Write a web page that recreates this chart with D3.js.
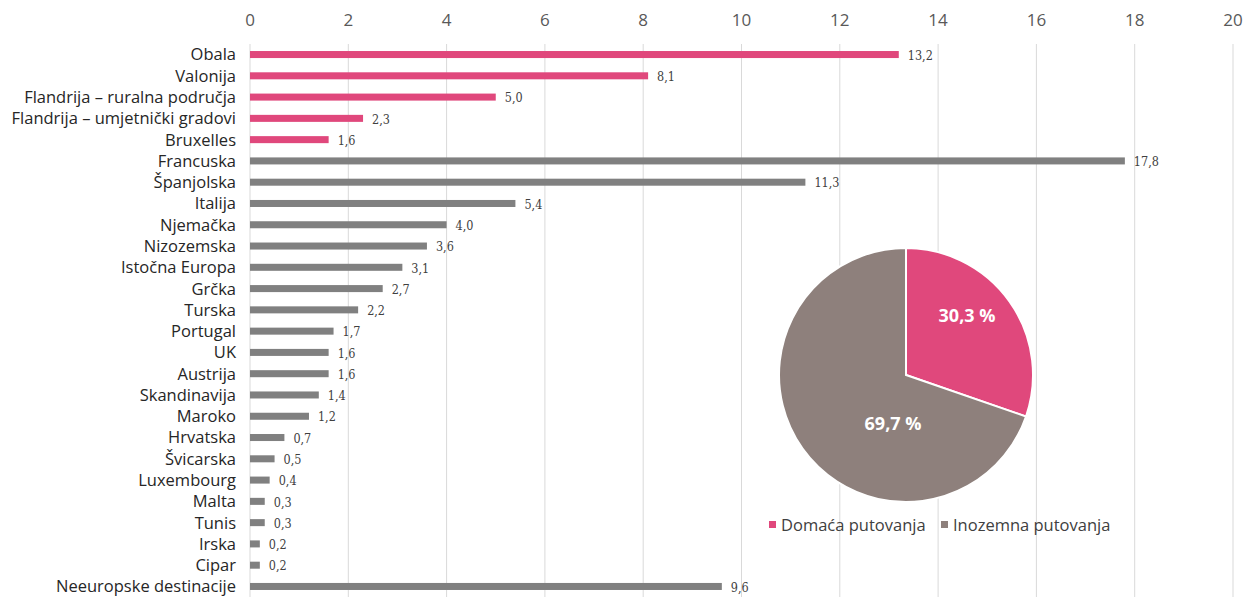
<!DOCTYPE html>
<html>
<head>
<meta charset="utf-8">
<script src="https://cdn.jsdelivr.net/npm/d3@7"></script>
<style>
  body { margin: 0; background: #fff; }
  svg { display: block; }
</style>
</head>
<body>
<div id="chart"></div>
<script>
// data
const categories = ['Obala', 'Valonija', 'Flandrija – ruralna područja', 'Flandrija – umjetnički gradovi',
  'Bruxelles', 'Francuska', 'Španjolska', 'Italija', 'Njemačka', 'Nizozemska', 'Istočna Europa',
  'Grčka', 'Turska', 'Portugal', 'UK', 'Austrija', 'Skandinavija', 'Maroko', 'Hrvatska',
  'Švicarska', 'Luxembourg', 'Malta', 'Tunis', 'Irska', 'Cipar', 'Neeuropske destinacije'];
const values = [13.2, 8.1, 5.0, 2.3, 1.6, 17.8, 11.3, 5.4, 4.0, 3.6, 3.1, 2.7, 2.2, 1.7, 1.6, 1.6,
  1.4, 1.2, 0.7, 0.5, 0.4, 0.3, 0.3, 0.2, 0.2, 9.6];
const domesticCount = 5;
const xTicks = [0, 2, 4, 6, 8, 10, 12, 14, 16, 18, 20];
const pieLabels = ['Domaća putovanja', 'Inozemna putovanja'];
const pieValues = [30.3, 69.7];

const W = 1244, H = 597;
const pink = '#e0487c', gray = '#808080', pieGray = '#8e807c';
const fmt = v => d3.format('.1f')(v).replace('.', ',');

const svg = d3.select('#chart').append('svg')
  .attr('width', W).attr('height', H)
  .style('font-family', 'Open Sans, sans-serif');

const x = d3.scaleLinear().domain([0, 20]).range([250, 1233]);
const y = d3.scaleBand().domain(categories).range([44, 597]).paddingInner(0.67).paddingOuter(0.33);

// gridlines
svg.append('g').selectAll('line').data(xTicks).join('line')
  .attr('x1', d => x(d)).attr('x2', d => x(d))
  .attr('y1', 44).attr('y2', H)
  .attr('stroke', '#d9d9d9').attr('stroke-width', 1);

// top axis tick labels
svg.append('g').selectAll('text').data(xTicks).join('text')
  .attr('x', d => x(d)).attr('y', 26)
  .attr('text-anchor', 'middle')
  .attr('font-size', 17).attr('fill', '#595959')
  .text(d => d);

// bars
svg.append('g').selectAll('rect').data(values).join('rect')
  .attr('x', x(0))
  .attr('y', (d, i) => y(categories[i]))
  .attr('width', d => x(d) - x(0))
  .attr('height', y.bandwidth())
  .attr('fill', (d, i) => i < domesticCount ? pink : gray);

// value labels
svg.append('g').selectAll('text').data(values).join('text')
  .attr('x', d => x(d) + 9)
  .attr('y', (d, i) => y(categories[i]) + y.bandwidth() / 2)
  .attr('dy', '0.42em')
  .attr('font-size', 12.5).attr('fill', '#404040')
  .style('font-family', 'DejaVu Serif Condensed, Liberation Serif, serif')
  .text(fmt);

// category labels
svg.append('g').selectAll('text').data(categories).join('text')
  .attr('x', 236)
  .attr('y', d => y(d) + y.bandwidth() / 2)
  .attr('dy', '0.36em')
  .attr('text-anchor', 'end')
  .attr('font-size', 16.5).attr('fill', '#262626')
  .text(d => d);

// pie
const cx = 906, cy = 375, r = 127;
const pie = d3.pie().sort(null)(pieValues);
const arc = d3.arc().innerRadius(0).outerRadius(r);
const labelOffset = [[61, -59], [-13, 49]]; // Excel best-fit label spots, relative to centre
const pg = svg.append('g').attr('transform', `translate(${cx},${cy})`);
pg.selectAll('path').data(pie).join('path')
  .attr('d', arc)
  .attr('fill', (d, i) => i === 0 ? pink : pieGray)
  .attr('stroke', '#fff').attr('stroke-width', 2);
pg.selectAll('text').data(pie).join('text')
  .attr('x', (d, i) => labelOffset[i][0])
  .attr('y', (d, i) => labelOffset[i][1])
  .attr('text-anchor', 'middle').attr('dy', '0.35em')
  .attr('font-size', 18).attr('font-weight', 'bold').attr('fill', '#fff')
  .text(d => fmt(d.data) + ' %');

// legend
const lg = svg.append('g').attr('transform', 'translate(769,525)');
const legendX = [0, 172];
lg.selectAll('rect').data(pieLabels).join('rect')
  .attr('x', (d, i) => legendX[i]).attr('y', -4)
  .attr('width', 7).attr('height', 7)
  .attr('fill', (d, i) => i === 0 ? pink : pieGray);
lg.selectAll('text').data(pieLabels).join('text')
  .attr('x', (d, i) => legendX[i] + 12).attr('y', 0)
  .attr('dy', '0.35em')
  .attr('font-size', 16.5).attr('fill', '#404040')
  .text(d => d);
</script>
</body>
</html>
